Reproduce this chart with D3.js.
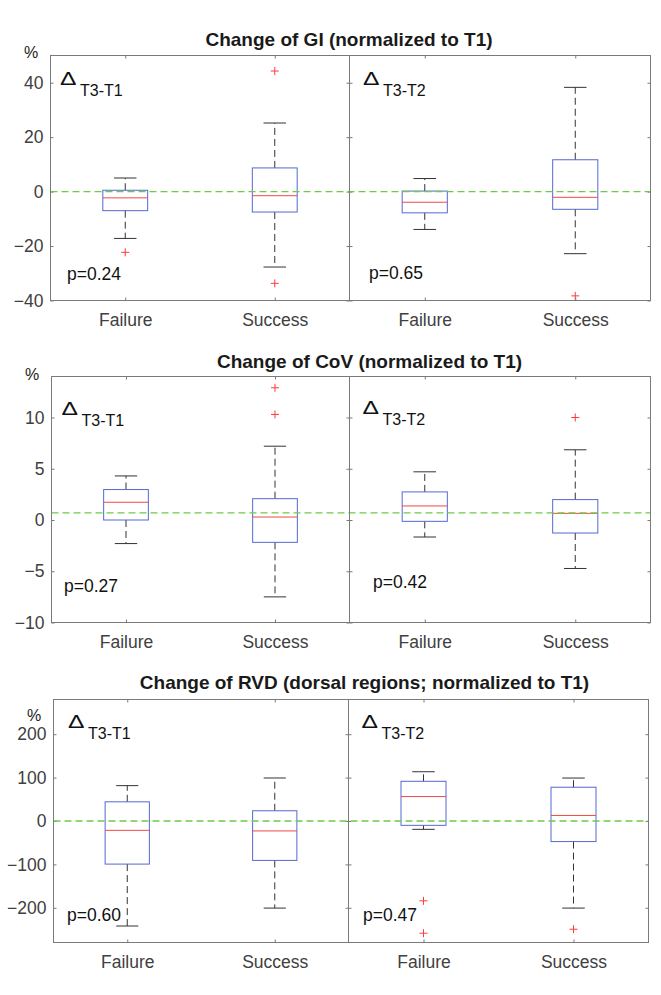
<!DOCTYPE html>
<html><head><meta charset="utf-8">
<script src="https://cdn.jsdelivr.net/npm/d3@7"></script>
<style>body{margin:0;background:#fff} svg{display:block} text{font-family:"Liberation Sans",Arial,Helvetica,sans-serif}</style>
</head><body>
<script>
// ---------------- DATA ----------------
const categories = ["Failure", "Success"];
const subplotLabels = ["T3-T1", "T3-T2"];
// box stats: [lower whisker, Q1, median, Q3, upper whisker]
const giTitle = "Change of GI (normalized to T1)";
const giTicks = [-40, -20, 0, 20, 40];
const giDomain = [-40, 50];
const giRef = 0;
const giPValues = ["p=0.24", "p=0.65"];
const giT3T1Stats = [[-17.2, -7.0, -2.3, 0.5, 5.0], [-27.7, -7.5, -1.5, 8.7, 25.2]];
const giT3T1Outliers = [[-22.3], [44.3, -33.7]];
const giT3T2Stats = [[-13.9, -7.8, -3.9, 0.2, 4.8], [-22.8, -6.5, -2.1, 11.7, 38.3]];
const giT3T2Outliers = [[], [-38.3]];

const covTitle = "Change of CoV (normalized to T1)";
const covTicks = [-10, -5, 0, 5, 10];
const covDomain = [-10, 14];
const covRef = 0.7;
const covPValues = ["p=0.27", "p=0.42"];
const covT3T1Stats = [[-2.3, 0.0, 1.73, 2.97, 4.3], [-7.5, -2.18, 0.29, 2.08, 7.2]];
const covT3T1Outliers = [[], [12.9, 10.3]];
const covT3T2Stats = [[-1.66, -0.13, 1.37, 2.74, 4.7], [-4.73, -1.27, 0.65, 1.99, 6.85]];
const covT3T2Outliers = [[], [10.0]];

const rvdTitle = "Change of RVD (dorsal regions; normalized to T1)";
const rvdTicks = [-200, -100, 0, 100, 200];
const rvdDomain = [-280, 280];
const rvdRef = 0;
const rvdPValues = ["p=0.60", "p=0.47"];
const rvdT3T1Stats = [[-242, -99.3, -21.5, 44.2, 81.5], [-200.7, -90.8, -22.9, 23.6, 99.1]];
const rvdT3T1Outliers = [[], []];
const rvdT3T2Stats = [[-19.2, -10, 56.3, 91.5, 113.5], [-200.7, -47.4, 12.8, 77.8, 99]];
const rvdT3T2Outliers = [[-184, -258.6], [-249.4]];

// ---------------- LAYOUT ----------------
const layout = [
  {left: 50.5, mid: 349.5, right: 650.5, top: 55.5, bottom: 300.5, titleX: 349, titleY: 46, pctX: 31, pctY: 58,
   delta: [[60, 85], [363, 85]], p: [[67, 280], [369, 279]]},
  {left: 51.5, mid: 349.5, right: 650.5, top: 376.5, bottom: 622.5, titleX: 369.5, titleY: 367.5, pctX: 32, pctY: 380,
   delta: [[61.5, 415], [362.5, 414]], p: [[64, 592], [373, 588]]},
  {left: 53.5, mid: 348.5, right: 648.5, top: 699.5, bottom: 942.5, titleX: 364.5, titleY: 689, pctX: 34, pctY: 721,
   delta: [[68, 728], [361.5, 728]], p: [[67, 921], [363, 921]]}
];

const panels = [
  {title: giTitle, ticks: giTicks, domain: giDomain, ref: giRef, p: giPValues,
   stats: [giT3T1Stats, giT3T2Stats], outliers: [giT3T1Outliers, giT3T2Outliers]},
  {title: covTitle, ticks: covTicks, domain: covDomain, ref: covRef, p: covPValues,
   stats: [covT3T1Stats, covT3T2Stats], outliers: [covT3T1Outliers, covT3T2Outliers]},
  {title: rvdTitle, ticks: rvdTicks, domain: rvdDomain, ref: rvdRef, p: rvdPValues,
   stats: [rvdT3T1Stats, rvdT3T2Stats], outliers: [rvdT3T1Outliers, rvdT3T2Outliers]}
];

const axisColor = "#7a7a7a", labelColor = "#404040";
const boxColor = "#5468d4", medColor = "#f04848", whiskColor = "#333333", refColor = "#6bcc45";

const svg = d3.select("body").append("svg").attr("width", 661).attr("height", 995);

panels.forEach((P, i) => {
  const L = layout[i];
  const g = svg.append("g");
  const y = d3.scaleLinear().domain(P.domain).range([L.bottom, L.top]);

  // title
  g.append("text").attr("x", L.titleX).attr("y", L.titleY).attr("text-anchor", "middle")
    .attr("font-size", 19).attr("font-weight", "bold").attr("fill", "#1a1a1a").text(P.title);
  // % label
  g.append("text").attr("x", L.pctX).attr("y", L.pctY).attr("text-anchor", "middle")
    .attr("font-size", 16).attr("fill", "#222").text("%");

  const bounds = [[L.left, L.mid], [L.mid, L.right]];
  bounds.forEach(([x0, x1], s) => {
    const x = d3.scalePoint().domain(categories).range([x0, x1]).padding(0.5);
    const bw = x.step() * 0.3;
    const sg = g.append("g");
    const data = categories.map((c, k) => ({c, st: P.stats[s][k], out: P.outliers[s][k]}));

    data.forEach(d => {
      const cx = x(d.c);
      sg.append("line").attr("x1", cx).attr("x2", cx).attr("y1", y(d.st[3])).attr("y2", y(d.st[4]))
        .attr("stroke", whiskColor).attr("stroke-dasharray", "7,4");
      sg.append("line").attr("x1", cx).attr("x2", cx).attr("y1", y(d.st[1])).attr("y2", y(d.st[0]))
        .attr("stroke", whiskColor).attr("stroke-dasharray", "7,4");
      [d.st[0], d.st[4]].forEach(v => {
        sg.append("line").attr("x1", cx - bw / 4).attr("x2", cx + bw / 4).attr("y1", y(v)).attr("y2", y(v))
          .attr("stroke", whiskColor);
      });
      sg.append("rect").attr("x", cx - bw / 2).attr("y", y(d.st[3])).attr("width", bw)
        .attr("height", y(d.st[1]) - y(d.st[3])).attr("fill", "none").attr("stroke", boxColor);
      sg.append("line").attr("x1", cx - bw / 2).attr("x2", cx + bw / 2).attr("y1", y(d.st[2])).attr("y2", y(d.st[2]))
        .attr("stroke", medColor);
      d.out.forEach(v => {
        const yy = y(v);
        sg.append("path").attr("d", `M${cx - 4},${yy}H${cx + 4}M${cx},${yy - 4}V${yy + 4}`)
          .attr("stroke", "#ff3b3b").attr("fill", "none");
      });
    });

    const yl = sg.append("g").attr("transform", `translate(${x0},0)`)
      .call(d3.axisLeft(y).tickValues(P.ticks).tickSizeInner(-3).tickSizeOuter(0).tickPadding(7)
        .tickFormat(s === 0 ? d3.format("d") : () => ""));
    const yr = sg.append("g").attr("transform", `translate(${x1},0)`)
      .call(d3.axisRight(y).tickValues(P.ticks).tickSizeInner(-3).tickSizeOuter(0).tickFormat(() => ""));
    const xb = sg.append("g").attr("transform", `translate(0,${L.bottom})`)
      .call(d3.axisBottom(x).tickSizeInner(-3).tickSizeOuter(0).tickPadding(13));
    const xt = sg.append("g").attr("transform", `translate(0,${L.top})`)
      .call(d3.axisTop(x).tickSizeInner(-3).tickSizeOuter(0).tickFormat(() => ""));
    [yl, yr, xb, xt].forEach(a => {
      a.select(".domain").remove();
      a.selectAll("line").attr("stroke", axisColor);
      a.selectAll("text").attr("font-size", 17.5).attr("fill", labelColor)
        .style("font-family", '"Liberation Sans",Arial,Helvetica,sans-serif');
    });

    const [dx, dy] = L.delta[s];
    g.append("text").attr("x", dx).attr("y", dy).attr("font-size", 18).attr("fill", "#111")
      .attr("textLength", 16.5).attr("lengthAdjust", "spacingAndGlyphs").text("Δ");
    g.append("text").attr("x", dx + 20).attr("y", dy + 11).attr("font-size", 16).attr("fill", "#111")
      .text(subplotLabels[s]);
    const [px, py] = L.p[s];
    g.append("text").attr("x", px).attr("y", py).attr("font-size", 17.5).attr("fill", "#111").text(P.p[s]);
  });

  g.append("line").attr("x1", L.left).attr("x2", L.right).attr("y1", y(P.ref)).attr("y2", y(P.ref))
    .attr("stroke", refColor).attr("stroke-width", 1.4).attr("stroke-dasharray", "7,4");

  g.append("rect").attr("x", L.left).attr("y", L.top).attr("width", L.right - L.left).attr("height", L.bottom - L.top)
    .attr("fill", "none").attr("stroke", axisColor);
  g.append("line").attr("x1", L.mid).attr("x2", L.mid).attr("y1", L.top).attr("y2", L.bottom).attr("stroke", axisColor);
});
</script>
</body></html>
